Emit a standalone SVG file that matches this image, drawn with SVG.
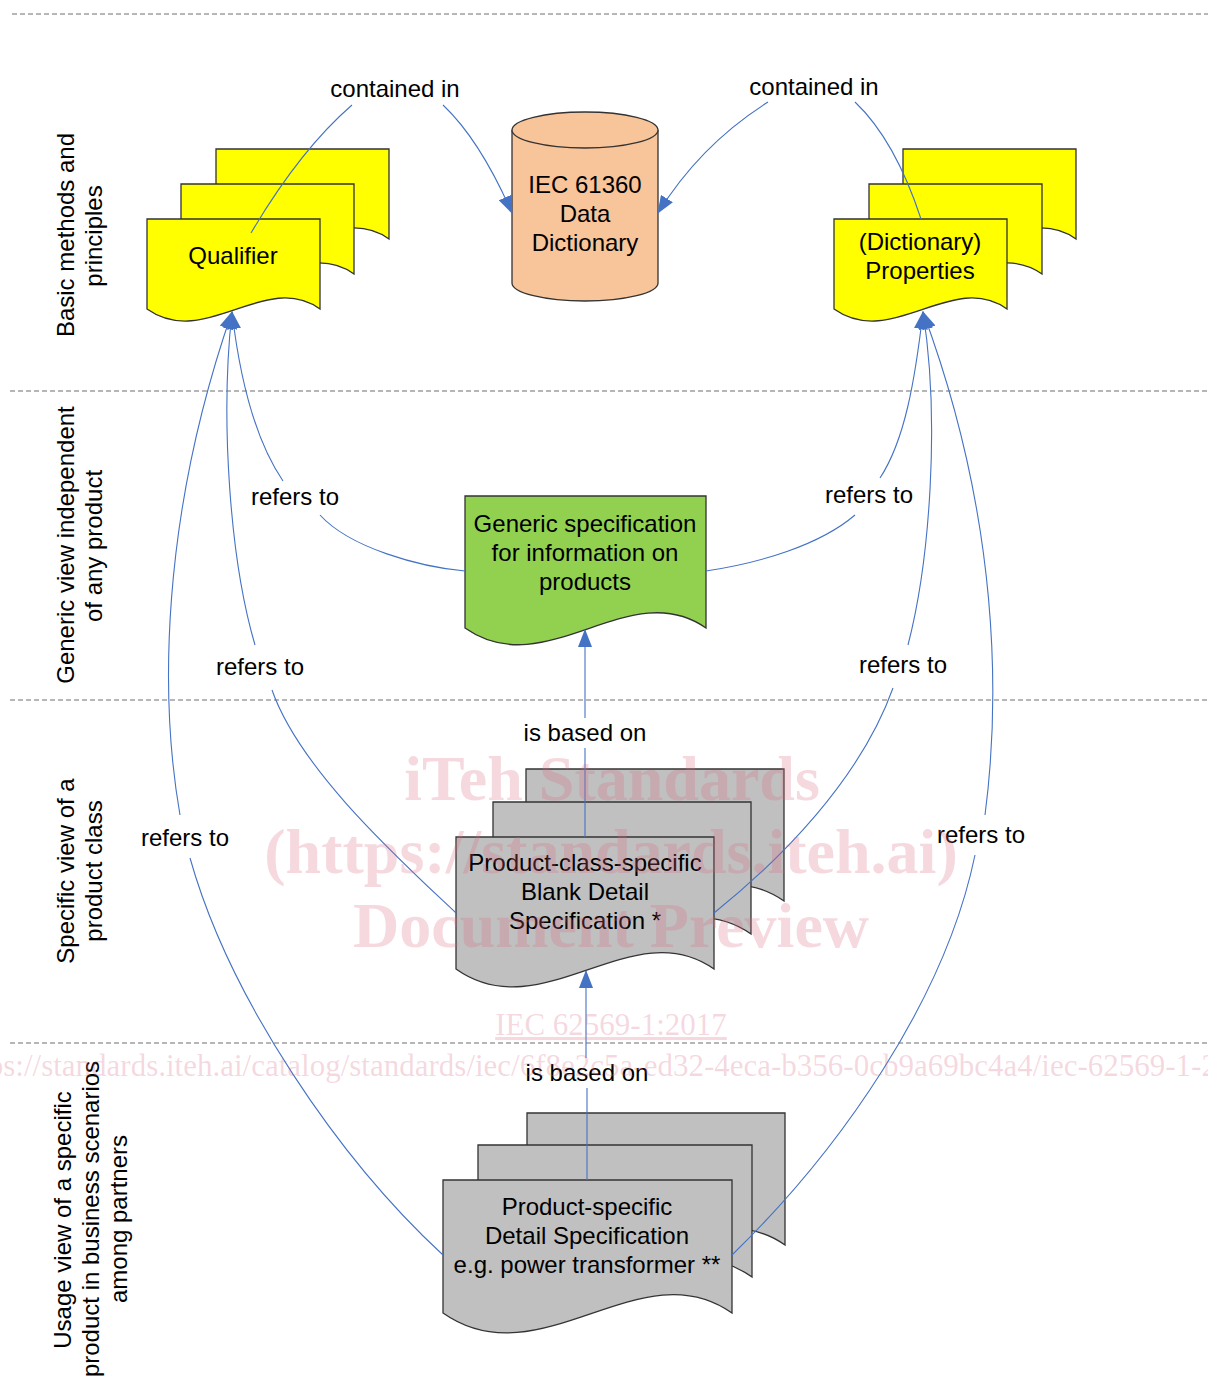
<svg xmlns="http://www.w3.org/2000/svg" width="1208" height="1385" viewBox="0 0 1208 1385">
<style>
text{font-family:"Liberation Sans",Arial,sans-serif;font-size:24px;fill:#000}
.t{text-anchor:middle}
.sep{stroke:#6e6e6e;stroke-width:1;stroke-dasharray:5,3;fill:none}
.yel{fill:#FFFF00;stroke:#333;stroke-width:1.3}
.gry{fill:#C0C0C0;stroke:#333;stroke-width:1.3}
.grn{fill:#92D050;stroke:#333;stroke-width:1.3}
.cyl{fill:#F8C49A;stroke:#333;stroke-width:1.3}
.c{fill:none;stroke:#4472C4;stroke-width:1.1}
.ca{fill:none;stroke:#4472C4;stroke-width:1.1;marker-end:url(#ah)}
text.wm{font-family:"Liberation Serif","Times New Roman",serif;fill:#D9667F;fill-opacity:0.25;text-anchor:middle}
text.wb{font-weight:bold;font-size:64px}
text.wiec{font-size:31px;text-decoration:underline}
text.wurl{font-family:"Liberation Serif","Times New Roman",serif;fill:#D9667F;fill-opacity:0.25;font-size:31px}
</style>
<defs>
<marker id="ah" viewBox="0 0 18 14" refX="17" refY="7" markerWidth="18" markerHeight="14" markerUnits="userSpaceOnUse" orient="auto">
<path d="M0,0 L18,7 L0,14 Z" fill="#4472C4"/>
</marker>
<path id="qdoc" d="M0,0 H173 V90 C118,51 58,131 0,90 Z"/>
<path id="pdoc" d="M0,0 H258 V132 C176,74 86,193 0,132 Z"/>
</defs>

<g id="separators">
<line class="sep" x1="12" y1="14" x2="1208" y2="14"/>
<line class="sep" x1="10" y1="391" x2="1208" y2="391"/>
<line class="sep" x1="10" y1="700" x2="1208" y2="700"/>
<line class="sep" x1="10" y1="1043" x2="1208" y2="1043"/>
</g>

<g id="lane-labels">
<text class="t" transform="translate(74,235) rotate(-90)">Basic methods and</text>
<text class="t" transform="translate(102,236) rotate(-90)">principles</text>
<text class="t" transform="translate(74,545) rotate(-90)">Generic view independent</text>
<text class="t" transform="translate(102,546) rotate(-90)">of any product</text>
<text class="t" transform="translate(74,871) rotate(-90)">Specific view of a</text>
<text class="t" transform="translate(102,871) rotate(-90)">product class</text>
<text class="t" transform="translate(71,1220) rotate(-90)">Usage view of a specific</text>
<text class="t" transform="translate(99,1219) rotate(-90)">product in business scenarios</text>
<text class="t" transform="translate(127,1219) rotate(-90)">among partners</text>
</g>

<g id="qualifier">
<use href="#qdoc" class="yel" x="216" y="149"/>
<use href="#qdoc" class="yel" x="181" y="184"/>
<use href="#qdoc" class="yel" x="147" y="219"/>
<text class="t" x="233" y="264">Qualifier</text>
</g>

<g id="data-dictionary">
<path class="cyl" d="M512,130 A73,18 0 0 1 658,130 V283 A73,18 0 0 1 512,283 Z"/>
<path class="cyl" d="M512,130 A73,18 0 0 0 658,130"/>
<text class="t" x="585" y="193">IEC 61360</text>
<text class="t" x="585" y="222">Data</text>
<text class="t" x="585" y="251">Dictionary</text>
</g>

<g id="properties">
<use href="#qdoc" class="yel" x="903" y="149"/>
<use href="#qdoc" class="yel" x="869" y="184"/>
<use href="#qdoc" class="yel" x="834" y="219"/>
<text class="t" x="920" y="250">(Dictionary)</text>
<text class="t" x="920" y="279">Properties</text>
</g>

<g id="generic-spec">
<path class="grn" d="M465,496 H706 V628 C629,574 546,685 465,628 Z"/>
<text class="t" x="585" y="532">Generic specification</text>
<text class="t" x="585" y="561">for information on</text>
<text class="t" x="585" y="590">products</text>
</g>

<g id="product-class-spec">
<use href="#pdoc" class="gry" x="526" y="769"/>
<use href="#pdoc" class="gry" x="493" y="802"/>
<use href="#pdoc" class="gry" x="456" y="837"/>
<text class="t" x="585" y="871">Product-class-specific</text>
<text class="t" x="585" y="900">Blank Detail</text>
<text class="t" x="585" y="929">Specification *</text>
</g>

<g id="product-spec">
<path class="gry" d="M527,1113 H785 V1245 C703,1187 613,1306 527,1245 Z"/>
<path class="gry" d="M478,1145 H752 V1277 C665,1215 570,1342 478,1277 Z"/>
<path class="gry" d="M443,1180 H732 V1313 C640,1248 540,1381 443,1313 Z"/>
<text class="t" x="587" y="1215">Product-specific</text>
<text class="t" x="587" y="1244">Detail Specification</text>
<text class="t" x="587" y="1273">e.g. power transformer **</text>
</g>

<g id="connectors">
<path class="c" d="M251,233 Q300,150 352,105"/>
<path class="ca" d="M443,105 Q480,140 512,213"/>
<path class="c" d="M921,219 Q895,140 855,102"/>
<path class="ca" d="M768,102 Q700,145 658,213"/>

<path class="c" d="M465,571 C420,567 350,548 320,515"/>
<path class="ca" d="M283,481 C255,440 240,380 232,312"/>
<path class="c" d="M456,913 C400,860 300,770 272,690"/>
<path class="ca" d="M255,645 C230,560 220,420 232,312"/>
<path class="c" d="M443,1255 C340,1160 230,1000 190,858"/>
<path class="ca" d="M180,815 C160,700 160,520 232,312"/>

<path class="c" d="M706,571 C760,563 820,545 855,515"/>
<path class="ca" d="M880,478 C905,440 915,380 923,312"/>
<path class="c" d="M714,913 C780,860 860,780 893,688"/>
<path class="ca" d="M908,645 C930,560 940,420 923,312"/>
<path class="c" d="M732,1255 C840,1150 945,1000 975,855"/>
<path class="ca" d="M985,815 C1000,700 1000,520 923,312"/>

<path class="c" d="M585,837 V748"/>
<path class="ca" d="M585,718 V630"/>
<path class="c" d="M587,1180 V1088"/>
<path class="ca" d="M586,1058 V971"/>

<text class="t" x="395" y="97">contained in</text>
<text class="t" x="814" y="95">contained in</text>
<text class="t" x="295" y="505">refers to</text>
<text class="t" x="869" y="503">refers to</text>
<text class="t" x="260" y="675">refers to</text>
<text class="t" x="903" y="673">refers to</text>
<text class="t" x="185" y="846">refers to</text>
<text class="t" x="981" y="843">refers to</text>
<text class="t" x="585" y="741">is based on</text>
<text class="t" x="587" y="1081">is based on</text>
</g>

<g id="watermark">
<text class="wm wb" x="612" y="800">iTeh Standards</text>
<text class="wm wb" x="611" y="873">(https://standards.iteh.ai)</text>
<text class="wm wb" x="611" y="947">Document Preview</text>
<text class="wm wiec" x="611" y="1035">IEC 62569-1:2017</text>
<text class="wurl" x="-45" y="1076">https://standards.iteh.ai/catalog/standards/iec/6f8e2c5a-ed32-4eca-b356-0cb9a69bc4a4/iec-62569-1-2017</text>
</g>
</svg>
